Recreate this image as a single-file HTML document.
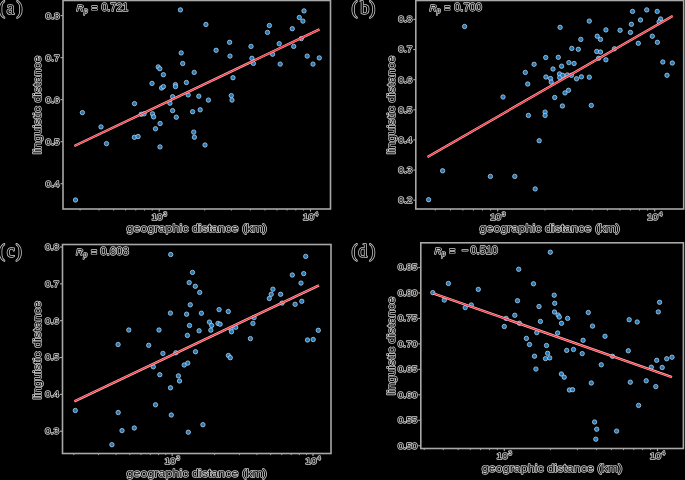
<!DOCTYPE html>
<html><head><meta charset="utf-8"><style>
html,body{margin:0;padding:0;background:#000;}
body{width:685px;height:480px;overflow:hidden;}
svg{display:block;will-change:transform;}
.t{font-family:"Liberation Sans",sans-serif;fill:#000;stroke:#d0d0d0;stroke-width:1.45px;paint-order:stroke;stroke-linejoin:round;}
.tl{font-size:9.2px;}
.sup{font-size:5.6px;}
.al{font-size:11.8px;}
.rp{font-size:10.6px;}
.it{font-style:italic;}
.sub{font-size:6.6px;}
.lt{font-family:"Liberation Serif",serif;font-size:18.2px;letter-spacing:0.7px;}
.tk{stroke:#b0b0b0;stroke-width:1.1;}
.mt{stroke:#b0b0b0;stroke-width:0.9;}
.fr{fill:none;stroke:#a8a8a8;stroke-width:1.6;}
.dt{fill:#1f78b8;stroke:#c8dcf4;stroke-width:0.7;}
.rl0{stroke:#ffc0c6;stroke-width:2.4;}
.rl{stroke:#f8303c;stroke-width:1.2;}
</style></head>
<body><svg width="685" height="480" viewBox="0 0 685 480">
<rect x="0" y="0" width="685" height="480" fill="#000"/>
<line x1="60.5" y1="15.6" x2="63" y2="15.6" class="tk"/>
<text transform="translate(59.6,18.5) scale(1.1,1)" text-anchor="end" class="t tl">0.8</text>
<line x1="60.5" y1="57.63" x2="63" y2="57.63" class="tk"/>
<text transform="translate(59.6,60.53) scale(1.1,1)" text-anchor="end" class="t tl">0.7</text>
<line x1="60.5" y1="99.66" x2="63" y2="99.66" class="tk"/>
<text transform="translate(59.6,102.56) scale(1.1,1)" text-anchor="end" class="t tl">0.6</text>
<line x1="60.5" y1="141.69" x2="63" y2="141.69" class="tk"/>
<text transform="translate(59.6,144.59) scale(1.1,1)" text-anchor="end" class="t tl">0.5</text>
<line x1="60.5" y1="183.72" x2="63" y2="183.72" class="tk"/>
<text transform="translate(59.6,186.62) scale(1.1,1)" text-anchor="end" class="t tl">0.4</text>
<line x1="80.09" y1="209" x2="80.09" y2="210.6" class="mt"/>
<line x1="98.99" y1="209" x2="98.99" y2="210.6" class="mt"/>
<line x1="113.65" y1="209" x2="113.65" y2="210.6" class="mt"/>
<line x1="125.63" y1="209" x2="125.63" y2="210.6" class="mt"/>
<line x1="135.76" y1="209" x2="135.76" y2="210.6" class="mt"/>
<line x1="144.54" y1="209" x2="144.54" y2="210.6" class="mt"/>
<line x1="152.28" y1="209" x2="152.28" y2="210.6" class="mt"/>
<line x1="204.75" y1="209" x2="204.75" y2="210.6" class="mt"/>
<line x1="231.39" y1="209" x2="231.39" y2="210.6" class="mt"/>
<line x1="250.29" y1="209" x2="250.29" y2="210.6" class="mt"/>
<line x1="264.95" y1="209" x2="264.95" y2="210.6" class="mt"/>
<line x1="276.93" y1="209" x2="276.93" y2="210.6" class="mt"/>
<line x1="287.06" y1="209" x2="287.06" y2="210.6" class="mt"/>
<line x1="295.84" y1="209" x2="295.84" y2="210.6" class="mt"/>
<line x1="303.58" y1="209" x2="303.58" y2="210.6" class="mt"/>
<line x1="159.2" y1="209" x2="159.2" y2="211.5" class="tk"/>
<text transform="translate(159.2,219.5) scale(1.1,1)" text-anchor="middle" class="t tl">10<tspan class="sup" dx="0.7" dy="-4.0">3</tspan></text>
<line x1="310.5" y1="209" x2="310.5" y2="211.5" class="tk"/>
<text transform="translate(310.5,219.5) scale(1.1,1)" text-anchor="middle" class="t tl">10<tspan class="sup" dx="0.7" dy="-4.0">4</tspan></text>
<text  x="196.75" y="232.2" text-anchor="middle" class="t al" textLength="140.5" lengthAdjust="spacingAndGlyphs">geographic distance (km)</text>
<text  transform="translate(40.9,105.05) rotate(-90)" x="0" y="0" text-anchor="middle" class="t al" textLength="98.5" lengthAdjust="spacingAndGlyphs">linguistic distance</text>
<text x="76.6" y="11.4" class="t rp it" style="font-size:9.6px">R</text>
<text x="83.9" y="13.3" class="t rp it sub">p</text>
<text x="91.4" y="12.2" class="t rp" textLength="6.0" lengthAdjust="spacingAndGlyphs">=</text>
<text x="101.4" y="11.4" class="t rp" textLength="26.9" lengthAdjust="spacingAndGlyphs">0.721</text>
<text x="-1" y="14.1" class="t lt">(<tspan dx="0.8">a</tspan><tspan dx="1.1">)</tspan></text>
<circle cx="180.4" cy="9.9" r="2.2" class="dt"/>
<circle cx="205.9" cy="24.5" r="2.2" class="dt"/>
<circle cx="229.6" cy="42.3" r="2.2" class="dt"/>
<circle cx="216.1" cy="50.3" r="2.2" class="dt"/>
<circle cx="230" cy="56.1" r="2.2" class="dt"/>
<circle cx="181.2" cy="52.9" r="2.2" class="dt"/>
<circle cx="182.7" cy="63.5" r="2.2" class="dt"/>
<circle cx="158.2" cy="66.9" r="2.2" class="dt"/>
<circle cx="159.8" cy="68.7" r="2.2" class="dt"/>
<circle cx="304" cy="10.9" r="2.2" class="dt"/>
<circle cx="299.3" cy="17.5" r="2.2" class="dt"/>
<circle cx="302.9" cy="21.1" r="2.2" class="dt"/>
<circle cx="269.4" cy="25.5" r="2.2" class="dt"/>
<circle cx="267.5" cy="32.4" r="2.2" class="dt"/>
<circle cx="292.3" cy="28.7" r="2.2" class="dt"/>
<circle cx="301.3" cy="38.6" r="2.2" class="dt"/>
<circle cx="279.2" cy="43.7" r="2.2" class="dt"/>
<circle cx="293.7" cy="46.4" r="2.2" class="dt"/>
<circle cx="251" cy="46.4" r="2.2" class="dt"/>
<circle cx="272.6" cy="54.2" r="2.2" class="dt"/>
<circle cx="251.9" cy="58.3" r="2.2" class="dt"/>
<circle cx="253.4" cy="63.4" r="2.2" class="dt"/>
<circle cx="280.2" cy="64.1" r="2.2" class="dt"/>
<circle cx="307.2" cy="56.1" r="2.2" class="dt"/>
<circle cx="319.3" cy="57.9" r="2.2" class="dt"/>
<circle cx="313" cy="64.1" r="2.2" class="dt"/>
<circle cx="163.4" cy="74.7" r="2.2" class="dt"/>
<circle cx="194.2" cy="72.4" r="2.2" class="dt"/>
<circle cx="152" cy="83.4" r="2.2" class="dt"/>
<circle cx="186.4" cy="82.5" r="2.2" class="dt"/>
<circle cx="175.4" cy="84.6" r="2.2" class="dt"/>
<circle cx="175.5" cy="86.6" r="2.2" class="dt"/>
<circle cx="161.6" cy="88" r="2.2" class="dt"/>
<circle cx="163.4" cy="86.6" r="2.2" class="dt"/>
<circle cx="172.6" cy="96.7" r="2.2" class="dt"/>
<circle cx="188.2" cy="94.9" r="2.2" class="dt"/>
<circle cx="198.8" cy="96.2" r="2.2" class="dt"/>
<circle cx="169.9" cy="103.2" r="2.2" class="dt"/>
<circle cx="233" cy="77.7" r="2.2" class="dt"/>
<circle cx="208.4" cy="100.1" r="2.2" class="dt"/>
<circle cx="231.3" cy="95.6" r="2.2" class="dt"/>
<circle cx="232" cy="100.1" r="2.2" class="dt"/>
<circle cx="134.5" cy="103.6" r="2.2" class="dt"/>
<circle cx="82.4" cy="112.6" r="2.2" class="dt"/>
<circle cx="141.2" cy="114.3" r="2.2" class="dt"/>
<circle cx="144.1" cy="113.8" r="2.2" class="dt"/>
<circle cx="152.5" cy="113.8" r="2.2" class="dt"/>
<circle cx="153.6" cy="116.9" r="2.2" class="dt"/>
<circle cx="101" cy="126.9" r="2.2" class="dt"/>
<circle cx="134.4" cy="137.3" r="2.2" class="dt"/>
<circle cx="138.1" cy="136.5" r="2.2" class="dt"/>
<circle cx="172.6" cy="110.6" r="2.2" class="dt"/>
<circle cx="176.3" cy="117.2" r="2.2" class="dt"/>
<circle cx="192.6" cy="111.7" r="2.2" class="dt"/>
<circle cx="200.2" cy="109.8" r="2.2" class="dt"/>
<circle cx="160.1" cy="123.5" r="2.2" class="dt"/>
<circle cx="155.5" cy="128.8" r="2.2" class="dt"/>
<circle cx="193.7" cy="132.1" r="2.2" class="dt"/>
<circle cx="194.4" cy="137.2" r="2.2" class="dt"/>
<circle cx="106.5" cy="143.6" r="2.2" class="dt"/>
<circle cx="75.5" cy="200" r="2.2" class="dt"/>
<circle cx="160" cy="146.9" r="2.2" class="dt"/>
<circle cx="205" cy="145" r="2.2" class="dt"/>
<line x1="74.3" y1="146" x2="319.4" y2="29.4" class="rl0"/>
<line x1="74.3" y1="146" x2="319.4" y2="29.4" class="rl"/>
<rect x="63" y="0.5" width="267.5" height="208.5" class="fr"/>
<line x1="413.3" y1="19.4" x2="415.8" y2="19.4" class="tk"/>
<text transform="translate(412.4,22.3) scale(1.1,1)" text-anchor="end" class="t tl">0.8</text>
<line x1="413.3" y1="49.53" x2="415.8" y2="49.53" class="tk"/>
<text transform="translate(412.4,52.43) scale(1.1,1)" text-anchor="end" class="t tl">0.7</text>
<line x1="413.3" y1="79.66" x2="415.8" y2="79.66" class="tk"/>
<text transform="translate(412.4,82.56) scale(1.1,1)" text-anchor="end" class="t tl">0.6</text>
<line x1="413.3" y1="109.79" x2="415.8" y2="109.79" class="tk"/>
<text transform="translate(412.4,112.69) scale(1.1,1)" text-anchor="end" class="t tl">0.5</text>
<line x1="413.3" y1="139.92" x2="415.8" y2="139.92" class="tk"/>
<text transform="translate(412.4,142.82) scale(1.1,1)" text-anchor="end" class="t tl">0.4</text>
<line x1="413.3" y1="170.05" x2="415.8" y2="170.05" class="tk"/>
<text transform="translate(412.4,172.95) scale(1.1,1)" text-anchor="end" class="t tl">0.3</text>
<line x1="413.3" y1="200.18" x2="415.8" y2="200.18" class="tk"/>
<text transform="translate(412.4,203.08) scale(1.1,1)" text-anchor="end" class="t tl">0.2</text>
<line x1="435.22" y1="209" x2="435.22" y2="210.6" class="mt"/>
<line x1="450.44" y1="209" x2="450.44" y2="210.6" class="mt"/>
<line x1="462.87" y1="209" x2="462.87" y2="210.6" class="mt"/>
<line x1="473.38" y1="209" x2="473.38" y2="210.6" class="mt"/>
<line x1="482.49" y1="209" x2="482.49" y2="210.6" class="mt"/>
<line x1="490.52" y1="209" x2="490.52" y2="210.6" class="mt"/>
<line x1="544.96" y1="209" x2="544.96" y2="210.6" class="mt"/>
<line x1="572.61" y1="209" x2="572.61" y2="210.6" class="mt"/>
<line x1="592.22" y1="209" x2="592.22" y2="210.6" class="mt"/>
<line x1="607.44" y1="209" x2="607.44" y2="210.6" class="mt"/>
<line x1="619.87" y1="209" x2="619.87" y2="210.6" class="mt"/>
<line x1="630.38" y1="209" x2="630.38" y2="210.6" class="mt"/>
<line x1="639.49" y1="209" x2="639.49" y2="210.6" class="mt"/>
<line x1="647.52" y1="209" x2="647.52" y2="210.6" class="mt"/>
<line x1="497.7" y1="209" x2="497.7" y2="211.5" class="tk"/>
<text transform="translate(497.7,219.5) scale(1.1,1)" text-anchor="middle" class="t tl">10<tspan class="sup" dx="0.7" dy="-4.0">3</tspan></text>
<line x1="654.7" y1="209" x2="654.7" y2="211.5" class="tk"/>
<text transform="translate(654.7,219.5) scale(1.1,1)" text-anchor="middle" class="t tl">10<tspan class="sup" dx="0.7" dy="-4.0">4</tspan></text>
<text  x="549.75" y="232.2" text-anchor="middle" class="t al" textLength="140.5" lengthAdjust="spacingAndGlyphs">geographic distance (km)</text>
<text  transform="translate(394.8,105.05) rotate(-90)" x="0" y="0" text-anchor="middle" class="t al" textLength="98.5" lengthAdjust="spacingAndGlyphs">linguistic distance</text>
<text x="429.4" y="11.4" class="t rp it" style="font-size:9.6px">R</text>
<text x="436.7" y="13.3" class="t rp it sub">p</text>
<text x="444.2" y="12.2" class="t rp" textLength="6.0" lengthAdjust="spacingAndGlyphs">=</text>
<text x="454.2" y="11.4" class="t rp" textLength="27.6" lengthAdjust="spacingAndGlyphs">0.700</text>
<text x="351.4" y="14.3" class="t lt">(<tspan dx="2.0">b</tspan><tspan dx="-0.7">)</tspan></text>
<circle cx="464.6" cy="26.5" r="2.2" class="dt"/>
<circle cx="589.3" cy="21.1" r="2.2" class="dt"/>
<circle cx="560.1" cy="27.3" r="2.2" class="dt"/>
<circle cx="580.8" cy="39.4" r="2.2" class="dt"/>
<circle cx="571.8" cy="48.4" r="2.2" class="dt"/>
<circle cx="578.3" cy="49.3" r="2.2" class="dt"/>
<circle cx="545.7" cy="57.5" r="2.2" class="dt"/>
<circle cx="558.3" cy="57.3" r="2.2" class="dt"/>
<circle cx="534.1" cy="64.3" r="2.2" class="dt"/>
<circle cx="568.9" cy="62.6" r="2.2" class="dt"/>
<circle cx="574.1" cy="63.5" r="2.2" class="dt"/>
<circle cx="561.6" cy="66.2" r="2.2" class="dt"/>
<circle cx="553" cy="69" r="2.2" class="dt"/>
<circle cx="632.5" cy="11.4" r="2.2" class="dt"/>
<circle cx="646.7" cy="9.9" r="2.2" class="dt"/>
<circle cx="657.2" cy="11.4" r="2.2" class="dt"/>
<circle cx="660.6" cy="19" r="2.2" class="dt"/>
<circle cx="659.1" cy="21.9" r="2.2" class="dt"/>
<circle cx="640.5" cy="20" r="2.2" class="dt"/>
<circle cx="631.4" cy="24.3" r="2.2" class="dt"/>
<circle cx="605.9" cy="29.9" r="2.2" class="dt"/>
<circle cx="620.1" cy="30.3" r="2.2" class="dt"/>
<circle cx="630.4" cy="32.4" r="2.2" class="dt"/>
<circle cx="597.2" cy="36.2" r="2.2" class="dt"/>
<circle cx="600.5" cy="39.4" r="2.2" class="dt"/>
<circle cx="652.3" cy="36.2" r="2.2" class="dt"/>
<circle cx="638.3" cy="43.3" r="2.2" class="dt"/>
<circle cx="657.4" cy="42.3" r="2.2" class="dt"/>
<circle cx="614.4" cy="48.8" r="2.2" class="dt"/>
<circle cx="596.7" cy="51.5" r="2.2" class="dt"/>
<circle cx="600.5" cy="52" r="2.2" class="dt"/>
<circle cx="598.6" cy="58.3" r="2.2" class="dt"/>
<circle cx="605.9" cy="59.8" r="2.2" class="dt"/>
<circle cx="662.8" cy="62" r="2.2" class="dt"/>
<circle cx="672.3" cy="63" r="2.2" class="dt"/>
<circle cx="525.3" cy="72.4" r="2.2" class="dt"/>
<circle cx="545.9" cy="77" r="2.2" class="dt"/>
<circle cx="550.5" cy="78.5" r="2.2" class="dt"/>
<circle cx="551.2" cy="82.1" r="2.2" class="dt"/>
<circle cx="559.5" cy="73.9" r="2.2" class="dt"/>
<circle cx="559.7" cy="77.5" r="2.2" class="dt"/>
<circle cx="562.7" cy="75.3" r="2.2" class="dt"/>
<circle cx="567.4" cy="75" r="2.2" class="dt"/>
<circle cx="571.4" cy="75.3" r="2.2" class="dt"/>
<circle cx="576.5" cy="78.8" r="2.2" class="dt"/>
<circle cx="581.4" cy="76.8" r="2.2" class="dt"/>
<circle cx="589.3" cy="77.2" r="2.2" class="dt"/>
<circle cx="527.7" cy="84" r="2.2" class="dt"/>
<circle cx="565" cy="92.9" r="2.2" class="dt"/>
<circle cx="568.5" cy="90.3" r="2.2" class="dt"/>
<circle cx="554.7" cy="97.5" r="2.2" class="dt"/>
<circle cx="562.4" cy="106" r="2.2" class="dt"/>
<circle cx="591.3" cy="105.4" r="2.2" class="dt"/>
<circle cx="528.4" cy="115.4" r="2.2" class="dt"/>
<circle cx="545.1" cy="112.1" r="2.2" class="dt"/>
<circle cx="545.1" cy="115.4" r="2.2" class="dt"/>
<circle cx="503" cy="97" r="2.2" class="dt"/>
<circle cx="442.6" cy="170.8" r="2.2" class="dt"/>
<circle cx="490.4" cy="176.4" r="2.2" class="dt"/>
<circle cx="514.8" cy="176.4" r="2.2" class="dt"/>
<circle cx="428.6" cy="199.7" r="2.2" class="dt"/>
<circle cx="539.2" cy="140.7" r="2.2" class="dt"/>
<circle cx="535.2" cy="188.9" r="2.2" class="dt"/>
<circle cx="667" cy="75.3" r="2.2" class="dt"/>
<line x1="427.5" y1="157" x2="672.7" y2="16" class="rl0"/>
<line x1="427.5" y1="157" x2="672.7" y2="16" class="rl"/>
<rect x="415.8" y="0.5" width="267.9" height="208.5" class="fr"/>
<line x1="60" y1="247" x2="62.5" y2="247" class="tk"/>
<text transform="translate(59.1,249.9) scale(1.1,1)" text-anchor="end" class="t tl">0.8</text>
<line x1="60" y1="283.84" x2="62.5" y2="283.84" class="tk"/>
<text transform="translate(59.1,286.74) scale(1.1,1)" text-anchor="end" class="t tl">0.7</text>
<line x1="60" y1="320.68" x2="62.5" y2="320.68" class="tk"/>
<text transform="translate(59.1,323.58) scale(1.1,1)" text-anchor="end" class="t tl">0.6</text>
<line x1="60" y1="357.52" x2="62.5" y2="357.52" class="tk"/>
<text transform="translate(59.1,360.42) scale(1.1,1)" text-anchor="end" class="t tl">0.5</text>
<line x1="60" y1="394.36" x2="62.5" y2="394.36" class="tk"/>
<text transform="translate(59.1,397.26) scale(1.1,1)" text-anchor="end" class="t tl">0.4</text>
<line x1="60" y1="431.2" x2="62.5" y2="431.2" class="tk"/>
<text transform="translate(59.1,434.1) scale(1.1,1)" text-anchor="end" class="t tl">0.3</text>
<line x1="73.79" y1="453.5" x2="73.79" y2="455.1" class="mt"/>
<line x1="98.58" y1="453.5" x2="98.58" y2="455.1" class="mt"/>
<line x1="116.17" y1="453.5" x2="116.17" y2="455.1" class="mt"/>
<line x1="129.81" y1="453.5" x2="129.81" y2="455.1" class="mt"/>
<line x1="140.96" y1="453.5" x2="140.96" y2="455.1" class="mt"/>
<line x1="150.39" y1="453.5" x2="150.39" y2="455.1" class="mt"/>
<line x1="158.56" y1="453.5" x2="158.56" y2="455.1" class="mt"/>
<line x1="165.76" y1="453.5" x2="165.76" y2="455.1" class="mt"/>
<line x1="214.59" y1="453.5" x2="214.59" y2="455.1" class="mt"/>
<line x1="239.38" y1="453.5" x2="239.38" y2="455.1" class="mt"/>
<line x1="256.97" y1="453.5" x2="256.97" y2="455.1" class="mt"/>
<line x1="270.61" y1="453.5" x2="270.61" y2="455.1" class="mt"/>
<line x1="281.76" y1="453.5" x2="281.76" y2="455.1" class="mt"/>
<line x1="291.19" y1="453.5" x2="291.19" y2="455.1" class="mt"/>
<line x1="299.36" y1="453.5" x2="299.36" y2="455.1" class="mt"/>
<line x1="306.56" y1="453.5" x2="306.56" y2="455.1" class="mt"/>
<line x1="172.2" y1="453.5" x2="172.2" y2="456" class="tk"/>
<text transform="translate(172.2,464) scale(1.1,1)" text-anchor="middle" class="t tl">10<tspan class="sup" dx="0.7" dy="-4.0">3</tspan></text>
<line x1="313" y1="453.5" x2="313" y2="456" class="tk"/>
<text transform="translate(313,464) scale(1.1,1)" text-anchor="middle" class="t tl">10<tspan class="sup" dx="0.7" dy="-4.0">4</tspan></text>
<text  x="196.75" y="476.7" text-anchor="middle" class="t al" textLength="140.5" lengthAdjust="spacingAndGlyphs">geographic distance (km)</text>
<text  transform="translate(40.9,350.3) rotate(-90)" x="0" y="0" text-anchor="middle" class="t al" textLength="98.5" lengthAdjust="spacingAndGlyphs">linguistic distance</text>
<text x="76.1" y="255.4" class="t rp it" style="font-size:9.6px">R</text>
<text x="83.4" y="257.3" class="t rp it sub">p</text>
<text x="90.9" y="256.2" class="t rp" textLength="6.0" lengthAdjust="spacingAndGlyphs">=</text>
<text x="100.2" y="255.4" class="t rp" textLength="28.8" lengthAdjust="spacingAndGlyphs">0.608</text>
<text x="-1" y="257.3" class="t lt">(<tspan dx="0.9">c</tspan><tspan dx="0.3">)</tspan></text>
<circle cx="170.7" cy="254.5" r="2.2" class="dt"/>
<circle cx="192.5" cy="272.4" r="2.2" class="dt"/>
<circle cx="189.2" cy="282.6" r="2.2" class="dt"/>
<circle cx="195.3" cy="286.3" r="2.2" class="dt"/>
<circle cx="199.7" cy="292.4" r="2.2" class="dt"/>
<circle cx="190.3" cy="304.8" r="2.2" class="dt"/>
<circle cx="219.1" cy="309.6" r="2.2" class="dt"/>
<circle cx="228.3" cy="311.5" r="2.2" class="dt"/>
<circle cx="170.4" cy="313.1" r="2.2" class="dt"/>
<circle cx="186.6" cy="314.2" r="2.2" class="dt"/>
<circle cx="201.4" cy="313.2" r="2.2" class="dt"/>
<circle cx="305.7" cy="256.4" r="2.2" class="dt"/>
<circle cx="292.3" cy="275" r="2.2" class="dt"/>
<circle cx="303.7" cy="273.6" r="2.2" class="dt"/>
<circle cx="301" cy="283.1" r="2.2" class="dt"/>
<circle cx="272.9" cy="289.2" r="2.2" class="dt"/>
<circle cx="271.2" cy="294.3" r="2.2" class="dt"/>
<circle cx="269.3" cy="298.5" r="2.2" class="dt"/>
<circle cx="280.6" cy="294.3" r="2.2" class="dt"/>
<circle cx="282.1" cy="303.1" r="2.2" class="dt"/>
<circle cx="295.1" cy="304.3" r="2.2" class="dt"/>
<circle cx="301.8" cy="301.3" r="2.2" class="dt"/>
<circle cx="128.8" cy="330" r="2.2" class="dt"/>
<circle cx="118.1" cy="344.5" r="2.2" class="dt"/>
<circle cx="148.7" cy="345.3" r="2.2" class="dt"/>
<circle cx="209.4" cy="322.1" r="2.2" class="dt"/>
<circle cx="211.6" cy="325.5" r="2.2" class="dt"/>
<circle cx="210.8" cy="330.2" r="2.2" class="dt"/>
<circle cx="189.5" cy="325.5" r="2.2" class="dt"/>
<circle cx="159" cy="330" r="2.2" class="dt"/>
<circle cx="199.1" cy="330.8" r="2.2" class="dt"/>
<circle cx="187.4" cy="335.4" r="2.2" class="dt"/>
<circle cx="162.9" cy="353.4" r="2.2" class="dt"/>
<circle cx="175.8" cy="352.8" r="2.2" class="dt"/>
<circle cx="195.5" cy="351.7" r="2.2" class="dt"/>
<circle cx="218" cy="323.4" r="2.2" class="dt"/>
<circle cx="220.1" cy="324.2" r="2.2" class="dt"/>
<circle cx="231" cy="329.2" r="2.2" class="dt"/>
<circle cx="231.5" cy="331.8" r="2.2" class="dt"/>
<circle cx="235.7" cy="327.3" r="2.2" class="dt"/>
<circle cx="254.1" cy="317.6" r="2.2" class="dt"/>
<circle cx="252.9" cy="323.4" r="2.2" class="dt"/>
<circle cx="250.4" cy="338.6" r="2.2" class="dt"/>
<circle cx="318.3" cy="330.3" r="2.2" class="dt"/>
<circle cx="307.5" cy="340" r="2.2" class="dt"/>
<circle cx="313.2" cy="339.5" r="2.2" class="dt"/>
<circle cx="75.3" cy="410.5" r="2.2" class="dt"/>
<circle cx="118.2" cy="412.5" r="2.2" class="dt"/>
<circle cx="134.3" cy="428" r="2.2" class="dt"/>
<circle cx="122" cy="430.6" r="2.2" class="dt"/>
<circle cx="111.9" cy="444.7" r="2.2" class="dt"/>
<circle cx="153.3" cy="366.8" r="2.2" class="dt"/>
<circle cx="184.2" cy="365" r="2.2" class="dt"/>
<circle cx="187.8" cy="363.1" r="2.2" class="dt"/>
<circle cx="228.4" cy="355.5" r="2.2" class="dt"/>
<circle cx="230.3" cy="357.7" r="2.2" class="dt"/>
<circle cx="159.8" cy="374.7" r="2.2" class="dt"/>
<circle cx="178.4" cy="375.9" r="2.2" class="dt"/>
<circle cx="179.5" cy="381" r="2.2" class="dt"/>
<circle cx="170.5" cy="387.8" r="2.2" class="dt"/>
<circle cx="155.5" cy="404.8" r="2.2" class="dt"/>
<circle cx="171.3" cy="415" r="2.2" class="dt"/>
<circle cx="202.9" cy="424.7" r="2.2" class="dt"/>
<circle cx="188.3" cy="432.2" r="2.2" class="dt"/>
<line x1="74.4" y1="401.3" x2="319" y2="285.3" class="rl0"/>
<line x1="74.4" y1="401.3" x2="319" y2="285.3" class="rl"/>
<rect x="62.5" y="244.5" width="268.5" height="209" class="fr"/>
<line x1="418.3" y1="267.5" x2="420.8" y2="267.5" class="tk"/>
<text transform="translate(417.4,270.4) scale(1.1,1)" text-anchor="end" class="t tl">0.85</text>
<line x1="418.3" y1="292.96" x2="420.8" y2="292.96" class="tk"/>
<text transform="translate(417.4,295.86) scale(1.1,1)" text-anchor="end" class="t tl">0.80</text>
<line x1="418.3" y1="318.43" x2="420.8" y2="318.43" class="tk"/>
<text transform="translate(417.4,321.33) scale(1.1,1)" text-anchor="end" class="t tl">0.75</text>
<line x1="418.3" y1="343.89" x2="420.8" y2="343.89" class="tk"/>
<text transform="translate(417.4,346.79) scale(1.1,1)" text-anchor="end" class="t tl">0.70</text>
<line x1="418.3" y1="369.36" x2="420.8" y2="369.36" class="tk"/>
<text transform="translate(417.4,372.26) scale(1.1,1)" text-anchor="end" class="t tl">0.65</text>
<line x1="418.3" y1="394.82" x2="420.8" y2="394.82" class="tk"/>
<text transform="translate(417.4,397.72) scale(1.1,1)" text-anchor="end" class="t tl">0.60</text>
<line x1="418.3" y1="420.29" x2="420.8" y2="420.29" class="tk"/>
<text transform="translate(417.4,423.19) scale(1.1,1)" text-anchor="end" class="t tl">0.55</text>
<line x1="418.3" y1="445.75" x2="420.8" y2="445.75" class="tk"/>
<text transform="translate(417.4,448.65) scale(1.1,1)" text-anchor="end" class="t tl">0.50</text>
<line x1="424.19" y1="448.5" x2="424.19" y2="450.1" class="mt"/>
<line x1="443.34" y1="448.5" x2="443.34" y2="450.1" class="mt"/>
<line x1="458.18" y1="448.5" x2="458.18" y2="450.1" class="mt"/>
<line x1="470.31" y1="448.5" x2="470.31" y2="450.1" class="mt"/>
<line x1="480.57" y1="448.5" x2="480.57" y2="450.1" class="mt"/>
<line x1="489.45" y1="448.5" x2="489.45" y2="450.1" class="mt"/>
<line x1="497.29" y1="448.5" x2="497.29" y2="450.1" class="mt"/>
<line x1="550.42" y1="448.5" x2="550.42" y2="450.1" class="mt"/>
<line x1="577.39" y1="448.5" x2="577.39" y2="450.1" class="mt"/>
<line x1="596.54" y1="448.5" x2="596.54" y2="450.1" class="mt"/>
<line x1="611.38" y1="448.5" x2="611.38" y2="450.1" class="mt"/>
<line x1="623.51" y1="448.5" x2="623.51" y2="450.1" class="mt"/>
<line x1="633.77" y1="448.5" x2="633.77" y2="450.1" class="mt"/>
<line x1="642.65" y1="448.5" x2="642.65" y2="450.1" class="mt"/>
<line x1="650.49" y1="448.5" x2="650.49" y2="450.1" class="mt"/>
<line x1="504.3" y1="448.5" x2="504.3" y2="451" class="tk"/>
<text transform="translate(504.3,459) scale(1.1,1)" text-anchor="middle" class="t tl">10<tspan class="sup" dx="0.7" dy="-4.0">3</tspan></text>
<line x1="657.5" y1="448.5" x2="657.5" y2="451" class="tk"/>
<text transform="translate(657.5,459) scale(1.1,1)" text-anchor="middle" class="t tl">10<tspan class="sup" dx="0.7" dy="-4.0">4</tspan></text>
<text  x="552.1" y="471.7" text-anchor="middle" class="t al" textLength="140.5" lengthAdjust="spacingAndGlyphs">geographic distance (km)</text>
<text  transform="translate(394.8,345.95) rotate(-90)" x="0" y="0" text-anchor="middle" class="t al" textLength="98.5" lengthAdjust="spacingAndGlyphs">linguistic distance</text>
<text x="434.4" y="253.7" class="t rp it" style="font-size:9.6px">R</text>
<text x="441.7" y="255.6" class="t rp it sub">p</text>
<text x="449.2" y="254.5" class="t rp" textLength="6.0" lengthAdjust="spacingAndGlyphs">=</text>
<text x="461.4" y="253.7" class="t rp" textLength="6.6" lengthAdjust="spacingAndGlyphs">−</text>
<text x="470.5" y="253.7" class="t rp" textLength="27.4" lengthAdjust="spacingAndGlyphs">0.510</text>
<text x="351.4" y="257" class="t lt">(<tspan dx="0.2">d</tspan><tspan dx="1.1">)</tspan></text>
<circle cx="448.4" cy="283.5" r="2.2" class="dt"/>
<circle cx="432.8" cy="292.6" r="2.2" class="dt"/>
<circle cx="478.3" cy="289.4" r="2.2" class="dt"/>
<circle cx="444.3" cy="300.1" r="2.2" class="dt"/>
<circle cx="471.3" cy="305" r="2.2" class="dt"/>
<circle cx="465.2" cy="307.6" r="2.2" class="dt"/>
<circle cx="550.3" cy="252.2" r="2.2" class="dt"/>
<circle cx="518.7" cy="269.3" r="2.2" class="dt"/>
<circle cx="533.5" cy="283.8" r="2.2" class="dt"/>
<circle cx="554.2" cy="295.2" r="2.2" class="dt"/>
<circle cx="517.5" cy="300.7" r="2.2" class="dt"/>
<circle cx="554.7" cy="303.3" r="2.2" class="dt"/>
<circle cx="539" cy="306.5" r="2.2" class="dt"/>
<circle cx="554.5" cy="312" r="2.2" class="dt"/>
<circle cx="588.3" cy="312.5" r="2.2" class="dt"/>
<circle cx="659.6" cy="302.3" r="2.2" class="dt"/>
<circle cx="658.3" cy="311.9" r="2.2" class="dt"/>
<circle cx="514.8" cy="315.3" r="2.2" class="dt"/>
<circle cx="506.1" cy="318.4" r="2.2" class="dt"/>
<circle cx="519.4" cy="323.2" r="2.2" class="dt"/>
<circle cx="540.4" cy="321.4" r="2.2" class="dt"/>
<circle cx="504.3" cy="326.5" r="2.2" class="dt"/>
<circle cx="536.8" cy="332.6" r="2.2" class="dt"/>
<circle cx="558.1" cy="315" r="2.2" class="dt"/>
<circle cx="559.3" cy="317" r="2.2" class="dt"/>
<circle cx="567.6" cy="318.4" r="2.2" class="dt"/>
<circle cx="561.5" cy="323.3" r="2.2" class="dt"/>
<circle cx="592.5" cy="326.1" r="2.2" class="dt"/>
<circle cx="557.6" cy="333" r="2.2" class="dt"/>
<circle cx="526.4" cy="338.4" r="2.2" class="dt"/>
<circle cx="529.5" cy="344.5" r="2.2" class="dt"/>
<circle cx="546.5" cy="345.5" r="2.2" class="dt"/>
<circle cx="534.5" cy="356.2" r="2.2" class="dt"/>
<circle cx="547.6" cy="353.3" r="2.2" class="dt"/>
<circle cx="545.5" cy="358.6" r="2.2" class="dt"/>
<circle cx="535.9" cy="369.1" r="2.2" class="dt"/>
<circle cx="583.1" cy="340.3" r="2.2" class="dt"/>
<circle cx="566.7" cy="350.4" r="2.2" class="dt"/>
<circle cx="573.5" cy="349.5" r="2.2" class="dt"/>
<circle cx="582.2" cy="353.6" r="2.2" class="dt"/>
<circle cx="549.7" cy="357.9" r="2.2" class="dt"/>
<circle cx="561.4" cy="374" r="2.2" class="dt"/>
<circle cx="629.2" cy="319.7" r="2.2" class="dt"/>
<circle cx="637.2" cy="322" r="2.2" class="dt"/>
<circle cx="605" cy="336.3" r="2.2" class="dt"/>
<circle cx="628.3" cy="350.8" r="2.2" class="dt"/>
<circle cx="612.5" cy="356.3" r="2.2" class="dt"/>
<circle cx="601.3" cy="364.8" r="2.2" class="dt"/>
<circle cx="656.7" cy="360.3" r="2.2" class="dt"/>
<circle cx="666.7" cy="358.8" r="2.2" class="dt"/>
<circle cx="672" cy="357.2" r="2.2" class="dt"/>
<circle cx="651.3" cy="367.2" r="2.2" class="dt"/>
<circle cx="662.2" cy="367.5" r="2.2" class="dt"/>
<circle cx="646.2" cy="380.8" r="2.2" class="dt"/>
<circle cx="564.2" cy="377.2" r="2.2" class="dt"/>
<circle cx="591.3" cy="383" r="2.2" class="dt"/>
<circle cx="569.4" cy="390" r="2.2" class="dt"/>
<circle cx="572.6" cy="389.7" r="2.2" class="dt"/>
<circle cx="594.6" cy="422" r="2.2" class="dt"/>
<circle cx="596.7" cy="429.2" r="2.2" class="dt"/>
<circle cx="595.8" cy="439.2" r="2.2" class="dt"/>
<circle cx="616.6" cy="431.1" r="2.2" class="dt"/>
<circle cx="630.3" cy="382.2" r="2.2" class="dt"/>
<circle cx="655.8" cy="386.6" r="2.2" class="dt"/>
<circle cx="638.6" cy="405.4" r="2.2" class="dt"/>
<line x1="433.1" y1="293.3" x2="672" y2="377.2" class="rl0"/>
<line x1="433.1" y1="293.3" x2="672" y2="377.2" class="rl"/>
<rect x="420.8" y="242.8" width="262.6" height="205.7" class="fr"/>
</svg></body></html>
